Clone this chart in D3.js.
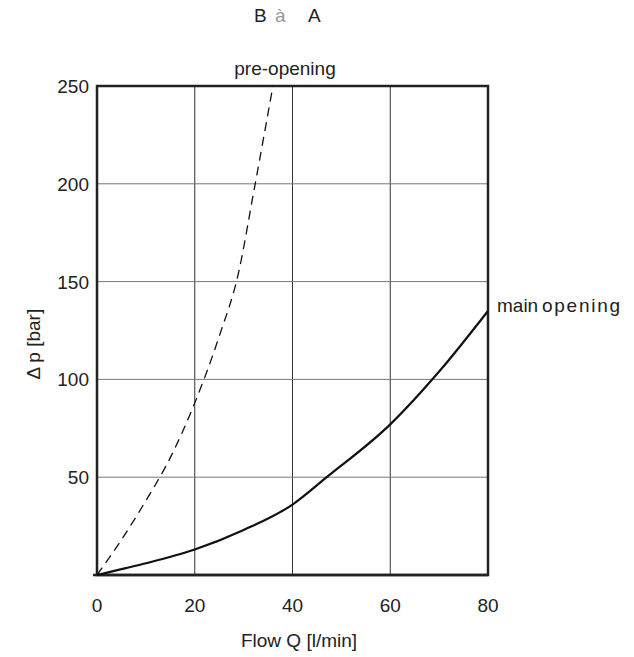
<!DOCTYPE html>
<html>
<head>
<meta charset="utf-8">
<script src="https://cdn.jsdelivr.net/npm/d3@7"></script>
<style>
  body { margin: 0; background: #fff; }
  text { font-family: "Liberation Sans", Arial, sans-serif; fill: #222; }
</style>
</head>
<body>
<div id="container"></div>
<script>
// chart data
const xTicks = [0, 20, 40, 60, 80];
const yTicks = [50, 100, 150, 200, 250];

const preFlow = [0, 5, 10, 15, 20, 25, 29, 32, 36];
const preDp   = [0, 18, 38, 60, 88, 122, 155, 195, 250];

const mainFlow = [0, 5, 10, 20, 30, 40, 47, 60, 70, 80];
const mainDp   = [0, 3, 6, 13, 23, 36, 50, 77, 104, 135];

const width = 634;
const height = 657;
const margin = { top: 86, right: 146, bottom: 82, left: 97 };
const fs = 19;

const svg = d3.select('#container')
              .append('svg')
              .attr('width', width)
              .attr('height', height);

const xScale = d3.scaleLinear()
                 .domain([0, 80])
                 .range([margin.left, width - margin.right]);

const yScale = d3.scaleLinear()
                 .domain([0, 250])
                 .range([height - margin.bottom, margin.top]);

// grid
svg.selectAll('.vgrid')
   .data(xTicks.slice(1, -1))
   .enter()
   .append('line')
   .attr('x1', d => xScale(d)).attr('x2', d => xScale(d))
   .attr('y1', yScale(0)).attr('y2', yScale(250))
   .attr('stroke', '#333').attr('stroke-width', 1);

svg.selectAll('.hgrid')
   .data(yTicks.slice(0, -1))
   .enter()
   .append('line')
   .attr('x1', xScale(0)).attr('x2', xScale(80))
   .attr('y1', d => yScale(d)).attr('y2', d => yScale(d))
   .attr('stroke', '#777').attr('stroke-width', 1);

// frame
svg.append('rect')
   .attr('x', xScale(0)).attr('y', yScale(250))
   .attr('width', xScale(80) - xScale(0))
   .attr('height', yScale(0) - yScale(250))
   .attr('fill', 'none').attr('stroke', '#222').attr('stroke-width', 2.5);

svg.append('line')
   .attr('x1', xScale(0) - 4).attr('x2', xScale(80))
   .attr('y1', yScale(0)).attr('y2', yScale(0))
   .attr('stroke', '#222').attr('stroke-width', 2.5);

// tick labels
svg.selectAll('.xlab')
   .data(xTicks)
   .enter()
   .append('text')
   .attr('x', d => xScale(d))
   .attr('y', yScale(0) + 37)
   .attr('text-anchor', 'middle')
   .attr('font-size', fs)
   .text(d => d);

svg.selectAll('.ylab')
   .data(yTicks)
   .enter()
   .append('text')
   .attr('x', xScale(0) - 8)
   .attr('y', d => yScale(d) + 7)
   .attr('text-anchor', 'end')
   .attr('font-size', fs)
   .text(d => d);

// axis titles
svg.append('text')
   .attr('x', 299).attr('y', 647)
   .attr('text-anchor', 'middle')
   .attr('font-size', fs)
   .text('Flow Q [l/min]');

svg.append('text')
   .attr('transform', 'translate(40,' + yScale(118) + ') rotate(-90)')
   .attr('text-anchor', 'middle')
   .attr('font-size', fs)
   .text('Δ p [bar]');

// title
const title = svg.append('text')
   .attr('y', 22)
   .attr('font-size', fs);
title.append('tspan').attr('x', 254).text('B');
title.append('tspan').attr('x', 275).style('fill', '#999').text('à');
title.append('tspan').attr('x', 308).text('A');

// curves
const line = d3.line()
               .x(d => xScale(d[0]))
               .y(d => yScale(d[1]))
               .curve(d3.curveMonotoneX);

svg.append('path')
   .datum(d3.zip(preFlow, preDp))
   .attr('d', line)
   .attr('fill', 'none')
   .attr('stroke', '#111')
   .attr('stroke-width', 1.3)
   .attr('stroke-dasharray', '9,6');

svg.append('path')
   .datum(d3.zip(mainFlow, mainDp))
   .attr('d', line)
   .attr('fill', 'none')
   .attr('stroke', '#111')
   .attr('stroke-width', 2.2);

// curve labels
svg.append('text')
   .attr('x', 285).attr('y', 75)
   .attr('text-anchor', 'middle')
   .attr('font-size', fs)
   .text('pre-opening');

svg.append('text')
   .attr('x', 497).attr('y', 312)
   .attr('font-size', fs)
   .text('main');

svg.append('text')
   .attr('x', 542).attr('y', 312)
   .attr('font-size', fs)
   .attr('textLength', 78)
   .text('opening');
</script>
</body>
</html>
